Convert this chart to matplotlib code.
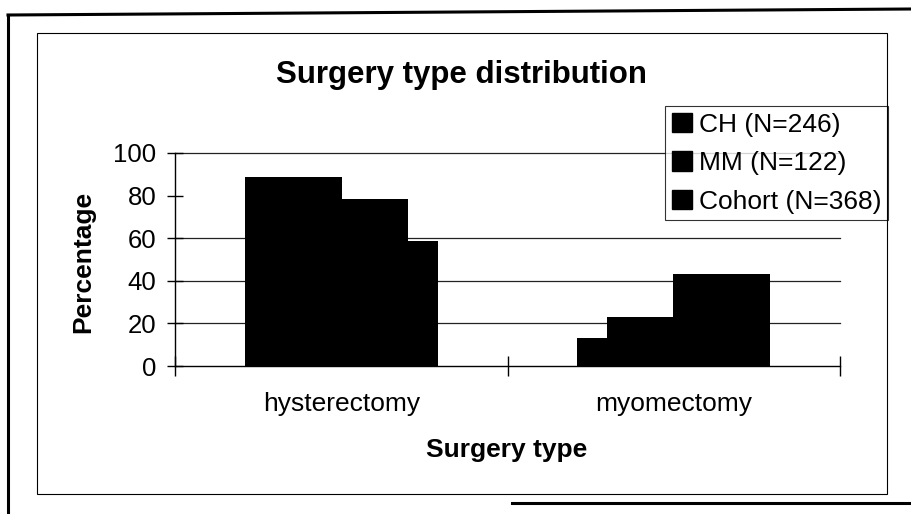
import matplotlib.pyplot as plt
from matplotlib.patches import Patch, Rectangle
from matplotlib.lines import Line2D

plt.rcParams['font.family'] = ['Liberation Sans', 'DejaVu Sans']

# data (percent)
categories = ["hysterectomy", "myomectomy"]
series = ["CH (N=246)", "MM (N=122)", "Cohort (N=368)"]
ch = [88.5, 13]
mm = [78.5, 23]
cohort = [58.5, 43]
yticks = [0, 20, 40, 60, 80, 100]
grid_levels = [20, 40, 60, 100]   # no 80 line visible in the scan

W, H = 911, 514
fig = plt.figure(figsize=(W / 100, H / 100), dpi=100)
ax = fig.add_axes([175 / W, 1 - 366 / H, 665 / W, 213 / H])

# bars overlap inside each group (all black, so only the outline shows)
offsets = [-0.144, 0.0, 0.144]
widths = [0.291, 0.402, 0.291]
for vals, off, w, lab in zip([ch, mm, cohort], offsets, widths, series):
    xs = [i + off for i in range(len(categories))]
    ax.bar(xs, vals, width=w, color="black", edgecolor="black", linewidth=0, zorder=3, label=lab)

for g in grid_levels:
    ax.axhline(g, color="#222222", lw=0.9, zorder=1, clip_on=False)

ax.set_xlim(-0.5, 1.5)
ax.set_ylim(0, 100)
for s in ["top", "right"]:
    ax.spines[s].set_visible(False)
for s in ["left", "bottom"]:
    ax.spines[s].set_color("black")
    ax.spines[s].set_linewidth(1.0)

ax.set_yticks(yticks)
ax.tick_params(axis="y", direction="inout", length=11, width=1, labelsize=18.5, pad=8)
ax.set_xticks([-0.5, 0.5, 1.5])
ax.set_xticklabels([])
ax.tick_params(axis="x", which="major", direction="inout", length=14, width=1)
ax.set_xticks(range(len(categories)), minor=True)
ax.set_xticklabels(categories, minor=True)
ax.tick_params(axis="x", which="minor", length=0, labelsize=19, pad=19)

fig.text(461 / W, 1 - 83 / H, "Surgery type distribution", ha="center", va="baseline",
         fontsize=22.5, fontweight="bold")
fig.text(507 / W, 1 - 457 / H, "Surgery type", ha="center", va="baseline",
         fontsize=19, fontweight="bold")
fig.text(83 / W, 1 - 262 / H, "Percentage", ha="center", va="center", rotation=90,
         fontsize=19, fontweight="bold")

handles = [Patch(facecolor="black", edgecolor="black", label=s) for s in series]
leg = ax.legend(handles=handles, loc="upper right", bbox_to_anchor=(888 / W, 1 - 106 / H),
                bbox_transform=fig.transFigure, frameon=True, fancybox=False,
                edgecolor="black", fontsize=19, handlelength=0.75, handleheight=0.75,
                handletextpad=0.27, borderpad=0.25, labelspacing=0.55, borderaxespad=0)
leg.get_frame().set_linewidth(0.8)
leg.set_zorder(5)

# scanned page frame and chart area border
fig.add_artist(Line2D([8 / W, 1.0], [1 - 15 / H, 1 - 9 / H], color="black", lw=2.2))
fig.add_artist(Line2D([8 / W, 8 / W], [1 - 15 / H, 0.0], color="black", lw=2.2))
fig.add_artist(Line2D([512 / W, 1.0], [1 - 503 / H, 1 - 503 / H], color="black", lw=2.2))
fig.add_artist(Rectangle((37 / W, 1 - 494 / H), (887 - 37) / W, (494 - 33) / H,
                         fill=False, lw=0.8, ec="black"))

fig.savefig("out.png", dpi=100)
